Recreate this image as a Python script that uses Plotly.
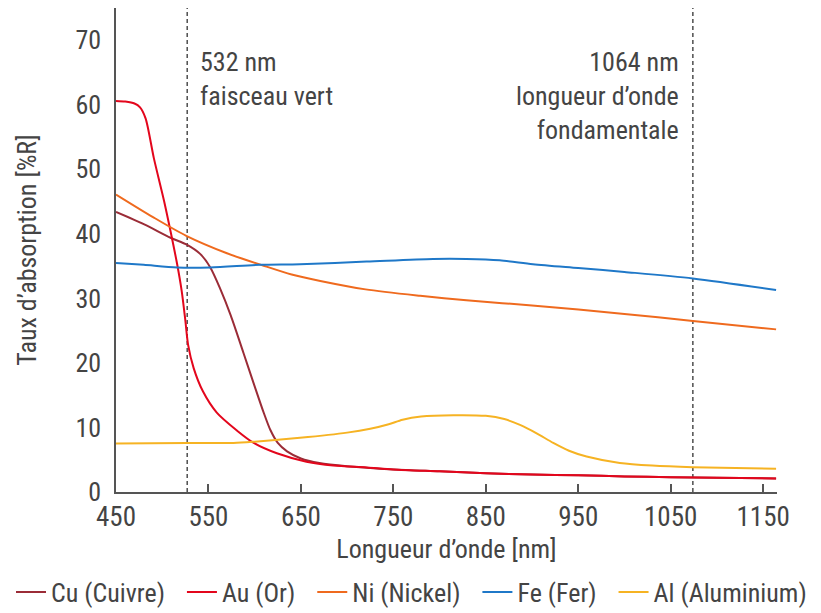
import plotly.graph_objects as go

# ---- data ----
cu_x = [450, 480, 509, 527, 541, 552, 563, 574, 588, 599, 610, 617, 625, 635, 650, 670, 700, 750, 800, 850, 900, 950, 1000, 1050, 1100, 1164]
cu_y = [43.4, 41.5, 39.4, 38.3, 36.9, 34.8, 31.4, 27.4, 21.5, 16.8, 12.2, 9.6, 7.6, 6.3, 5.2, 4.5, 4.0, 3.5, 3.2, 2.9, 2.7, 2.6, 2.4, 2.3, 2.2, 2.1]

au_x = [450, 460, 470, 476, 482, 491, 502, 509, 516, 521, 525, 528, 534, 544, 559, 581, 599, 624, 656, 685, 721, 750, 800, 850, 900, 950, 1000, 1050, 1100, 1164]
au_y = [60.6, 60.5, 60.2, 59.6, 57.9, 51.7, 45.1, 40.4, 35.4, 31.2, 26.6, 22.8, 19.2, 15.6, 12.3, 9.5, 7.6, 6.0, 4.7, 4.1, 3.8, 3.5, 3.2, 2.9, 2.7, 2.6, 2.4, 2.3, 2.2, 2.1]

ni_x = [450, 490, 526, 570, 609, 640, 671, 720, 779, 829, 900, 1000, 1074, 1164]
ni_y = [46.1, 42.6, 39.7, 37.0, 35.1, 33.7, 32.7, 31.4, 30.4, 29.7, 28.9, 27.6, 26.5, 25.2]

fe_x = [450, 480, 516, 552, 606, 649, 721, 793, 829, 865, 901, 950, 1000, 1074, 1164]
fe_y = [35.5, 35.2, 34.8, 34.8, 35.2, 35.3, 35.7, 36.1, 36.1, 35.9, 35.3, 34.7, 34.1, 33.1, 31.3]

al_x = [450, 527, 577, 600, 649, 700, 725, 745, 760, 780, 815, 850, 870, 887, 905, 923, 940, 959, 995, 1030, 1074, 1164]
al_y = [7.5, 7.6, 7.6, 7.8, 8.4, 9.2, 9.8, 10.5, 11.2, 11.7, 11.9, 11.8, 11.3, 10.4, 9.1, 7.6, 6.4, 5.5, 4.5, 4.1, 3.85, 3.6]

names = ["Cu (Cuivre)", "Au (Or)", "Ni (Nickel)", "Fe (Fer)", "Al (Aluminium)"]
colors = ["#9b2c37", "#e3061c", "#ef6a1e", "#1f78c8", "#f6b323"]
xs_all = [cu_x, au_x, ni_x, fe_x, al_x]
ys_all = [cu_y, au_y, ni_y, fe_y, al_y]

marker_lines = [527, 1074]
x_ticks = [450, 550, 650, 750, 850, 950, 1050, 1150]
y_ticks = [0, 10, 20, 30, 40, 50, 60, 70]

FONT = "Roboto Condensed, Liberation Sans Narrow, DejaVu Sans Condensed, Roboto, sans-serif"
TXT = "#444444"

# page body has an 8px margin: the figure is sized/positioned to compensate
W, H = 813, 605
ML, MT, MB = 108, 0, 121
PLOT_R = 769  # right end of x axis (figure px)

fig = go.Figure()
for i, (name, xs, ys, col) in enumerate(zip(names, xs_all, ys_all, colors)):
    label = name + ("\u00a0\u00a0" if i < len(names) - 1 else "")
    fig.add_trace(go.Scatter(x=xs, y=ys, name=label, mode="lines",
                             line=dict(color=col, width=2, shape="spline", smoothing=0.8)))

for xv in marker_lines:
    fig.add_shape(type="line", x0=xv, x1=xv, y0=0, y1=1, xref="x", yref="y domain",
                  line=dict(color="#333333", width=1.3, dash="4px,3px"), layer="below")

fig.add_annotation(x=marker_lines[0], y=1, xref="x", yref="y domain", xanchor="left", yanchor="top",
                   text="532 nm<br>faisceau vert", showarrow=False, align="left",
                   xshift=11, yshift=-37, font=dict(family=FONT, size=26, color=TXT))
fig.add_annotation(x=marker_lines[1], y=1, xref="x", yref="y domain", xanchor="right", yanchor="top",
                   text="1064 nm<br>longueur d’onde<br>fondamentale", showarrow=False, align="right",
                   xshift=-12, yshift=-37, font=dict(family=FONT, size=26, color=TXT))

plot_w = W - ML  # r margin = 0, axis domain shortened instead
plot_h = H - MT - MB
fig.update_layout(
    width=W, height=H,
    margin=dict(l=ML, r=0, t=MT, b=MB, pad=0, autoexpand=False),
    paper_bgcolor="white", plot_bgcolor="white",
    font=dict(family=FONT, size=26, color=TXT),
    showlegend=True,
    legend=dict(orientation="h", xref="paper", yref="paper",
                x=(3 - ML) / plot_w, y=-(584 - plot_h) / plot_h,
                xanchor="left", yanchor="middle", font=dict(family=FONT, size=26, color=TXT),
                itemwidth=30, tracegroupgap=0, borderwidth=0),
    xaxis=dict(domain=[0, (PLOT_R - ML) / plot_w], range=[450, 1165], tickvals=x_ticks,
               showgrid=False, zeroline=False,
               showline=True, linecolor="#555555", linewidth=1.5,
               ticks="inside", ticklen=8, tickcolor="#555555", tickwidth=1.5,
               tickfont=dict(size=27), title=dict(text="Longueur d’onde [nm]", standoff=8,
                                                  font=dict(size=26))),
    yaxis=dict(range=[0, 75], tickvals=y_ticks, showgrid=False, zeroline=False,
               showline=True, linecolor="#555555", linewidth=1.5, ticks="",
               tickfont=dict(size=26), ticklabelstandoff=8,
               title=dict(text="Taux d’absorption [%R]", standoff=31, font=dict(size=26))),
)

fig.write_html("out.html")
